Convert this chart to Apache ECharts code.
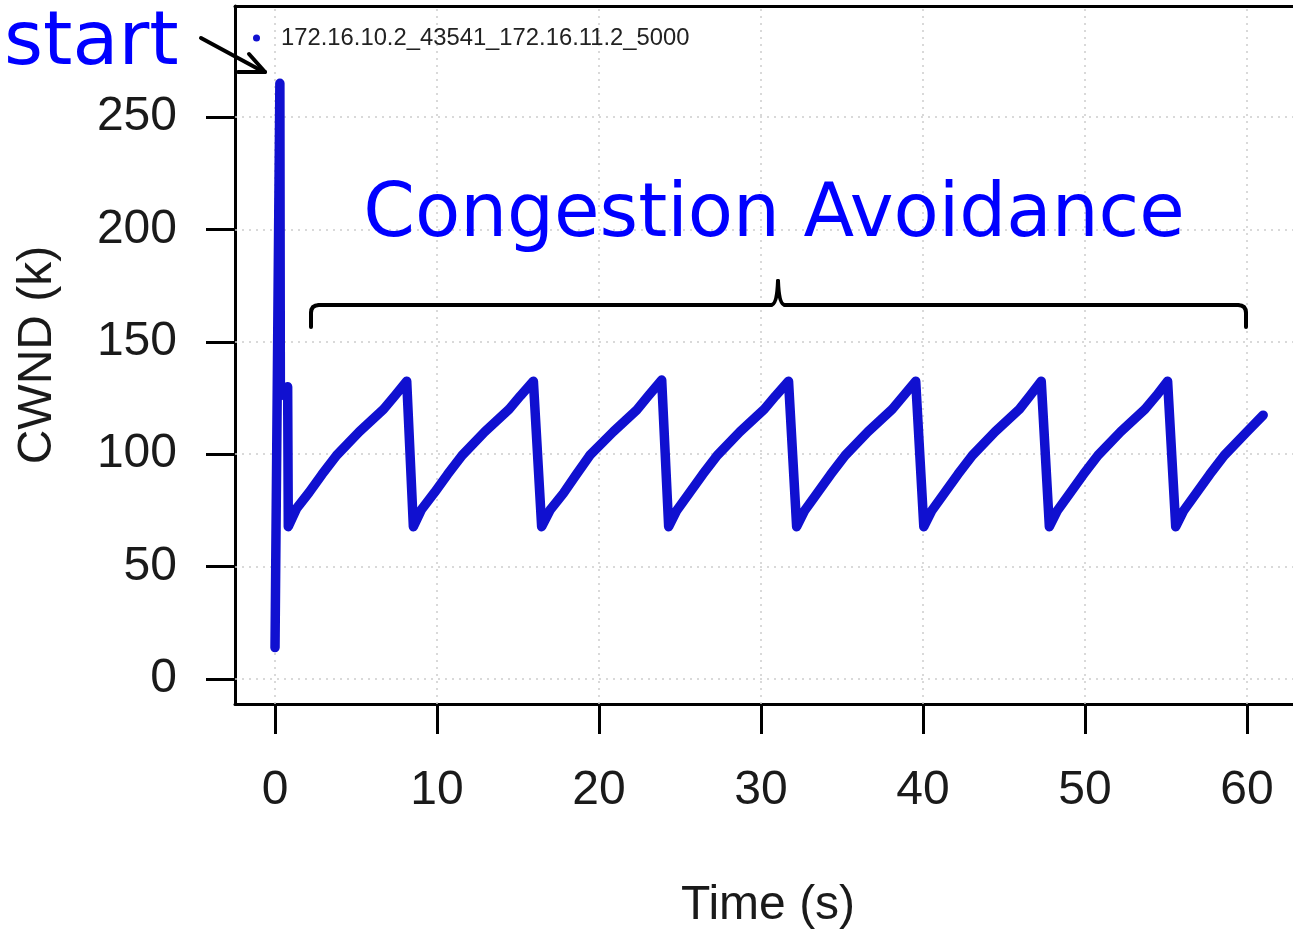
<!DOCTYPE html>
<html>
<head>
<meta charset="utf-8">
<script src="https://cdn.jsdelivr.net/npm/echarts@6/dist/echarts.min.js"></script>
<style>
html,body{margin:0;padding:0;background:#fff;}
#chart{width:1293px;height:937px;}
</style>
</head>
<body>
<div id="chart"></div>
<script>
// ---- data ----
const seriesName = '172.16.10.2_43541_172.16.11.2_5000';
const timeS = [
  0, 0.3, 0.33, 0.78, 0.82,
  1.34, 2.1, 2.9, 3.8, 5.2, 6.7, 7.4, 8.13, 8.54,
  9.05, 9.85, 10.65, 11.55, 12.95, 14.45, 15.15, 15.95, 16.46,
  16.98, 17.8, 18.6, 19.44, 20.88, 22.33, 23.05, 23.87, 24.3,
  24.8, 25.6, 26.4, 27.3, 28.7, 30.2, 30.9, 31.7, 32.2,
  32.7, 33.5, 34.3, 35.2, 36.6, 38.1, 38.8, 39.55, 40.05,
  40.55, 41.35, 42.15, 43.05, 44.45, 45.95, 46.6, 47.3, 47.8,
  48.3, 49.1, 49.9, 50.8, 52.2, 53.7, 54.4, 55.1, 55.6,
  56.1, 56.9, 57.7, 58.6, 60.0, 61.0
];
const cwndK = [
  14, 265, 126, 130, 67.8,
  76, 83, 91, 99.5, 110, 120, 126, 132.5, 67.8,
  75.5, 83, 91, 99.5, 110, 120, 126, 132.5, 67.8,
  75.2, 82.6, 91, 99.6, 110, 119.7, 126, 133, 67.8,
  75, 83, 91, 99.5, 110, 120, 126, 132.5, 67.8,
  75, 83, 91, 99.5, 110, 120, 126, 132.5, 67.8,
  75, 83, 91, 99.5, 110, 120, 126, 132.5, 67.8,
  75, 83, 91, 99.5, 110, 120, 126, 132.5, 67.8,
  75, 83, 91, 99.5, 110, 117.4
];
const xTicks = [0, 10, 20, 30, 40, 50, 60];
const yTicks = [0, 50, 100, 150, 200, 250];
const xTitle = 'Time (s)';
const yTitle = 'CWND (k)';
const noteStart = 'start';
const notePhase = 'Congestion Avoidance';

// ---- chart ----
const points = timeS.map((t, i) => [t, cwndK[i]]);
const blue = '#1010d0';
const ink = '#1a1a1a';
const labelFont = 'Liberation Sans, Arial, sans-serif';
const noteFont = 'DejaVu Sans, Verdana, sans-serif';
const xMin = -2.47, xMax = 62.84, yMin = -11.1, yMax = 299.4;

const gridLines = xTicks.map(v => ({ xAxis: v })).concat(yTicks.map(v => ({ yAxis: v })));

function seg(a, b) {
  return { type: 'line', z: 10, shape: { x1: a[0], y1: a[1], x2: b[0], y2: b[1] },
    style: { stroke: '#000', lineWidth: 4, lineCap: 'round' } };
}
function curve(a, c, b) {
  return { type: 'bezierCurve', z: 10,
    shape: { x1: a[0], y1: a[1], cpx1: c[0], cpy1: c[1], x2: b[0], y2: b[1] },
    style: { stroke: '#000', lineWidth: 4, fill: null, lineCap: 'round' } };
}

const chart = echarts.init(document.getElementById('chart'), null, { renderer: 'canvas' });
chart.setOption({
  animation: false,
  backgroundColor: '#ffffff',
  grid: { left: 235, right: 0, top: 6, bottom: 233, show: false },
  legend: {
    data: [seriesName],
    left: 248, top: 21,
    icon: 'circle', itemWidth: 7, itemHeight: 7,
    textStyle: { fontFamily: labelFont, fontSize: 23.8, color: '#222', padding: [0, 0, 0, 16] }
  },
  xAxis: [{
    type: 'value', min: xMin, max: xMax,
    name: xTitle, nameLocation: 'middle', nameGap: 178,
    nameTextStyle: { fontFamily: labelFont, fontSize: 48, color: ink, padding: [0, 0, 0, 8] },
    axisLine: { show: true, onZero: false, lineStyle: { color: '#000', width: 3 } },
    axisTick: { show: true, inside: false, customValues: xTicks, length: 30, lineStyle: { color: '#000', width: 3 } },
    axisLabel: { customValues: xTicks, margin: 63, fontFamily: labelFont, fontSize: 48, color: ink },
    splitLine: { show: false }
  }, {
    type: 'value', position: 'top', min: xMin, max: xMax,
    axisLine: { show: true, onZero: false, lineStyle: { color: '#000', width: 3 } },
    axisTick: { show: false }, axisLabel: { show: false }, splitLine: { show: false }
  }],
  yAxis: {
    type: 'value', min: yMin, max: yMax,
    name: yTitle, nameLocation: 'middle', nameGap: 173,
    nameTextStyle: { fontFamily: labelFont, fontSize: 48, color: ink },
    axisLine: { show: true, onZero: false, lineStyle: { color: '#000', width: 3 } },
    axisTick: { show: true, inside: false, customValues: yTicks, length: 29, lineStyle: { color: '#000', width: 3 } },
    axisLabel: { customValues: yTicks, margin: 58, fontFamily: labelFont, fontSize: 48, color: ink },
    splitLine: { show: false }
  },
  series: [{
    name: seriesName,
    type: 'line',
    xAxisIndex: 0,
    data: points,
    showSymbol: false,
    symbol: 'circle',
    itemStyle: { color: blue },
    lineStyle: { color: blue, width: 9.5, cap: 'round', join: 'round' },
    z: 2,
    markLine: {
      z: 1, silent: true, symbol: ['none', 'none'],
      label: { show: false },
      lineStyle: { color: '#cdcdcd', type: [2, 5], width: 1.5 },
      emphasis: { disabled: true },
      data: gridLines
    }
  }],
  graphic: [
    { type: 'text', z: 10, x: 4, y: 45,
      style: { text: noteStart, font: '75px ' + noteFont, fill: '#0000ff', align: 'left', verticalAlign: 'middle' } },
    { type: 'text', z: 10, x: 774, y: 217,
      style: { text: notePhase, font: '74px ' + noteFont, fill: '#0000ff', align: 'center', verticalAlign: 'middle' } },
    seg([201, 38], [262, 71]),
    seg([238, 72], [265, 72]),
    seg([265, 72], [249, 54]),
    seg([311, 327], [311, 313]),
    curve([311, 313], [311, 305], [319, 305]),
    seg([319, 305], [771, 305]),
    curve([771, 305], [777, 305], [778, 281]),
    curve([778, 281], [779, 305], [785, 305]),
    seg([785, 305], [1238, 305]),
    curve([1238, 305], [1246, 305], [1246, 313]),
    seg([1246, 313], [1246, 327])
  ]
});
</script>
</body>
</html>
